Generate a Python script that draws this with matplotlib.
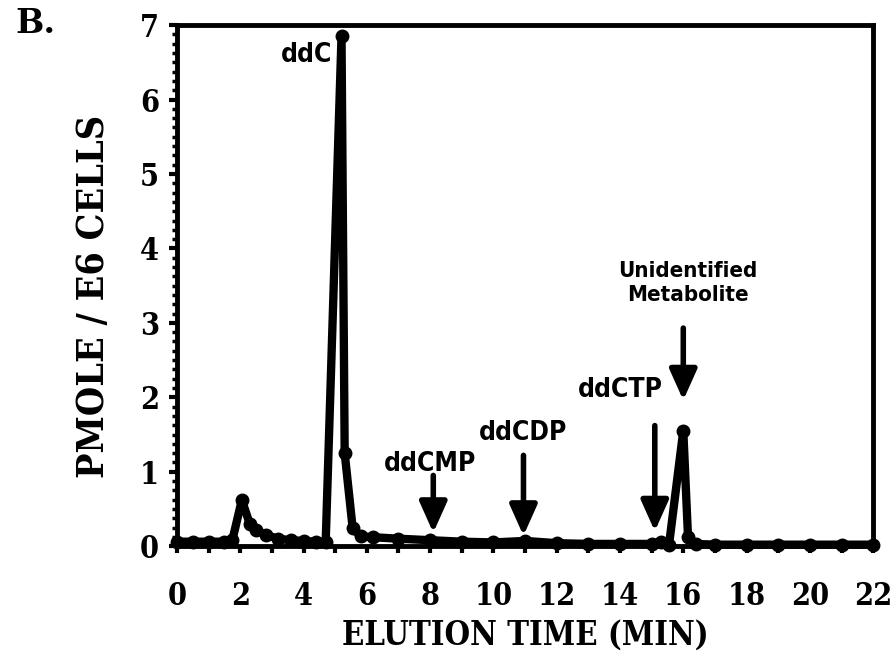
import matplotlib.pyplot as plt
from matplotlib.ticker import MultipleLocator

# ddC elution profile (pmol / 1e6 cells vs. elution time, min)
time_min = [0.0, 0.5, 1.0, 1.5, 1.75, 2.05, 2.3, 2.5, 2.8, 3.2, 3.6, 4.0, 4.4, 4.7,
            5.2, 5.3, 5.55, 5.8, 6.2, 7.0, 8.0, 9.0, 10.0, 11.0, 12.0, 13.0, 14.0,
            15.0, 15.3, 15.55, 16.0, 16.15, 16.4, 17.0, 18.0, 19.0, 20.0, 21.0, 22.0]
pmole = [0.06, 0.06, 0.06, 0.06, 0.08, 0.62, 0.3, 0.22, 0.15, 0.1, 0.08, 0.07, 0.06, 0.06,
         6.85, 1.25, 0.25, 0.13, 0.12, 0.1, 0.08, 0.06, 0.05, 0.07, 0.04, 0.03, 0.03,
         0.03, 0.06, 0.02, 1.55, 0.12, 0.03, 0.02, 0.02, 0.02, 0.02, 0.02, 0.02]

# peak labels: text, arrow x, arrow tail y, arrow tip y, text x, text y, size
peak_names = ['ddCMP', 'ddCDP', 'ddCTP', 'Unidentified\nMetabolite']
arrow_x = [8.1, 10.95, 15.1, 16.0]
arrow_tail = [0.95, 1.22, 1.62, 2.93]
arrow_tip = [0.18, 0.14, 0.2, 1.96]
text_x = [8.0, 10.95, 14.0, 16.15]
text_y = [1.1, 1.52, 2.1, 3.54]
text_size = [19, 19, 19, 16]

serif = ['DejaVu Serif', 'Liberation Serif']
sans = ['DejaVu Sans', 'Liberation Sans']

fig = plt.figure(figsize=(8.96, 6.62), dpi=100)
ax = fig.add_axes([0.1975, 0.175, 0.777, 0.787])

ax.plot(time_min, pmole, color='k', lw=6, marker='o', markersize=9,
        solid_joinstyle='round', zorder=3, clip_on=False)

for name, x, y0, y1, tx, ty, fs in zip(peak_names, arrow_x, arrow_tail, arrow_tip,
                                       text_x, text_y, text_size):
    ax.annotate('', xy=(x, y1), xytext=(x, y0),
                arrowprops=dict(arrowstyle='-|>,head_width=0.38,head_length=0.85',
                                lw=4, color='k', mutation_scale=22, shrinkA=0, shrinkB=0))
    ax.text(tx, ty, name, ha='center', va='center', fontsize=fs, fontweight='bold',
            family=sans, stretch='condensed', linespacing=1.25)

ax.text(4.9, 6.6, 'ddC', ha='right', va='center', fontsize=19, fontweight='bold',
        family=sans, stretch='condensed')

ax.set_xlim(0, 22)
ax.set_ylim(0, 7)
ax.xaxis.set_major_locator(MultipleLocator(2))
ax.xaxis.set_minor_locator(MultipleLocator(1))
ax.yaxis.set_major_locator(MultipleLocator(1))
ax.yaxis.set_minor_locator(MultipleLocator(0.125))

for s in ax.spines.values():
    s.set_linewidth(3.5)

ax.tick_params(axis='x', which='both', direction='out', length=5, width=3, pad=20)
ax.tick_params(axis='y', which='major', direction='out', length=6, width=3, pad=7)
ax.tick_params(axis='y', which='minor', direction='out', length=3.5, width=2.5)

for lab in ax.get_xticklabels() + ax.get_yticklabels():
    lab.set_fontfamily(serif)
    lab.set_fontstretch('condensed')
    lab.set_fontweight('bold')
    lab.set_fontsize(22)

ax.set_xlabel('ELUTION TIME (MIN)', fontsize=23.5, fontweight='bold', family=serif,
              stretch='condensed', labelpad=5)
ax.set_ylabel('PMOLE / E6 CELLS', fontsize=27, fontweight='bold', family=serif,
              stretch='condensed')
ax.yaxis.set_label_coords(-0.093, 0.48)

fig.text(0.017, 0.965, 'B.', fontsize=24, fontweight='bold', family=serif, va='center')

fig.savefig('out.png', dpi=100)
